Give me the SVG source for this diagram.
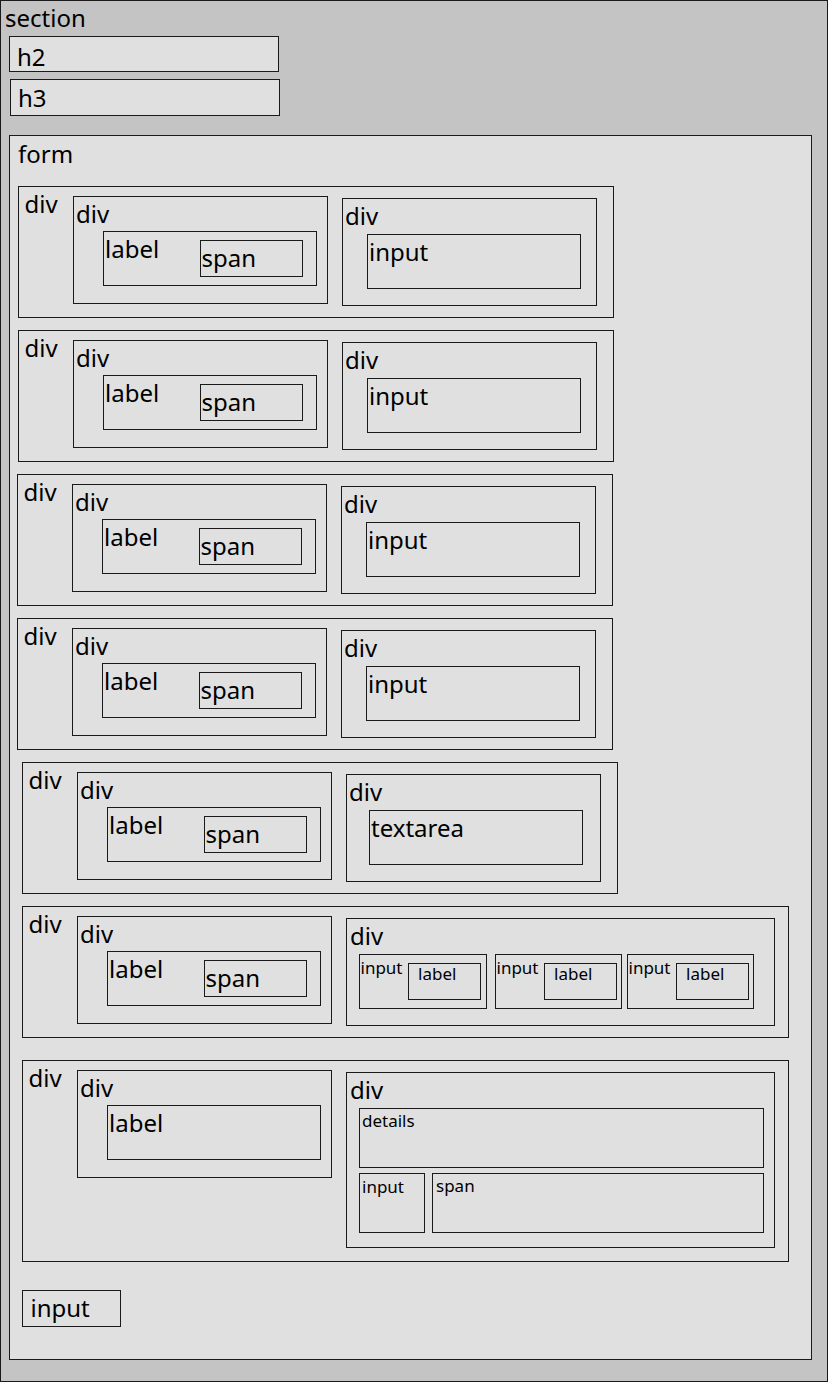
<svg xmlns="http://www.w3.org/2000/svg" width="828" height="1382" viewBox="0 0 828 1382">
<style>
rect{stroke:#1a1a1a;stroke-width:1;fill:#e0e0e0}
rect.sec{fill:#c4c4c4}
text{font-family:"Noto Sans","Open Sans","DejaVu Sans",sans-serif;font-size:24px;fill:#000}
text.s{font-size:17px}
</style>
<g id="section"><rect class="sec" x="0.5" y="0.5" width="827" height="1381"/><text x="5" y="27">section</text></g>
<g id="h2"><rect x="9.5" y="36.5" width="269" height="35"/><text x="17" y="66">h2</text></g>
<g id="h3"><rect x="10.5" y="79.5" width="269" height="36"/><text x="18" y="107">h3</text></g>
<g id="form"><rect x="9.5" y="135.5" width="802" height="1224"/><text x="18" y="163">form</text></g>

<g id="row1">
<g id="r1-div"><rect x="18.5" y="186.5" width="595" height="131"/><text x="24.5" y="213">div</text></g>
<g id="r1-ldiv"><rect x="73.5" y="196.5" width="254" height="107"/><text x="76" y="223">div</text></g>
<g id="r1-label"><rect x="103.5" y="231.5" width="213" height="54"/><text x="105" y="258">label</text></g>
<g id="r1-span"><rect x="200.5" y="240.5" width="102" height="36"/><text x="201.5" y="267">span</text></g>
<g id="r1-rdiv"><rect x="342.5" y="198.5" width="254" height="107"/><text x="345" y="225">div</text></g>
<g id="r1-input"><rect x="367.5" y="234.5" width="213" height="54"/><text x="369" y="261">input</text></g>
</g>
<g id="row2" transform="translate(0,144)">
<g id="r2-div"><rect x="18.5" y="186.5" width="595" height="131"/><text x="24.5" y="213">div</text></g>
<g id="r2-ldiv"><rect x="73.5" y="196.5" width="254" height="107"/><text x="76" y="223">div</text></g>
<g id="r2-label"><rect x="103.5" y="231.5" width="213" height="54"/><text x="105" y="258">label</text></g>
<g id="r2-span"><rect x="200.5" y="240.5" width="102" height="36"/><text x="201.5" y="267">span</text></g>
<g id="r2-rdiv"><rect x="342.5" y="198.5" width="254" height="107"/><text x="345" y="225">div</text></g>
<g id="r2-input"><rect x="367.5" y="234.5" width="213" height="54"/><text x="369" y="261">input</text></g>
</g>
<g id="row3" transform="translate(-1,288)">
<g id="r3-div"><rect x="18.5" y="186.5" width="595" height="131"/><text x="24.5" y="213">div</text></g>
<g id="r3-ldiv"><rect x="73.5" y="196.5" width="254" height="107"/><text x="76" y="223">div</text></g>
<g id="r3-label"><rect x="103.5" y="231.5" width="213" height="54"/><text x="105" y="258">label</text></g>
<g id="r3-span"><rect x="200.5" y="240.5" width="102" height="36"/><text x="201.5" y="267">span</text></g>
<g id="r3-rdiv"><rect x="342.5" y="198.5" width="254" height="107"/><text x="345" y="225">div</text></g>
<g id="r3-input"><rect x="367.5" y="234.5" width="213" height="54"/><text x="369" y="261">input</text></g>
</g>
<g id="row4" transform="translate(-1,432)">
<g id="r4-div"><rect x="18.5" y="186.5" width="595" height="131"/><text x="24.5" y="213">div</text></g>
<g id="r4-ldiv"><rect x="73.5" y="196.5" width="254" height="107"/><text x="76" y="223">div</text></g>
<g id="r4-label"><rect x="103.5" y="231.5" width="213" height="54"/><text x="105" y="258">label</text></g>
<g id="r4-span"><rect x="200.5" y="240.5" width="102" height="36"/><text x="201.5" y="267">span</text></g>
<g id="r4-rdiv"><rect x="342.5" y="198.5" width="254" height="107"/><text x="345" y="225">div</text></g>
<g id="r4-input"><rect x="367.5" y="234.5" width="213" height="54"/><text x="369" y="261">input</text></g>
</g>
<g id="row5" transform="translate(4,576)">
<g id="r5-div"><rect x="18.5" y="186.5" width="595" height="131"/><text x="24.5" y="213">div</text></g>
<g id="r5-ldiv"><rect x="73.5" y="196.5" width="254" height="107"/><text x="76" y="223">div</text></g>
<g id="r5-label"><rect x="103.5" y="231.5" width="213" height="54"/><text x="105" y="258">label</text></g>
<g id="r5-span"><rect x="200.5" y="240.5" width="102" height="36"/><text x="201.5" y="267">span</text></g>
<g id="r5-rdiv"><rect x="342.5" y="198.5" width="254" height="107"/><text x="345" y="225">div</text></g>
<g id="r5-textarea"><rect x="365.5" y="234.5" width="213" height="54"/><text x="367" y="261">textarea</text></g>
</g>
<g id="row6">
<g id="r6-div"><rect x="22.5" y="906.5" width="766" height="131"/><text x="28.5" y="933">div</text></g>
<g id="r6-ldiv"><rect x="77.5" y="916.5" width="254" height="107"/><text x="80" y="943">div</text></g>
<g id="r6-label"><rect x="107.5" y="951.5" width="213" height="54"/><text x="109" y="978">label</text></g>
<g id="r6-span"><rect x="204.5" y="960.5" width="102" height="36"/><text x="205.5" y="987">span</text></g>
<g id="r6-rdiv"><rect x="346.5" y="918.5" width="428" height="107"/><text x="350" y="945">div</text></g>
<g id="r6-input1"><rect x="359.5" y="954.5" width="127" height="54"/><text class="s" x="360.5" y="974">input</text></g>
<g id="r6-label1"><rect x="408.5" y="963.5" width="72" height="36"/><text class="s" x="418" y="980">label</text></g>
<g id="r6-input2"><rect x="495.5" y="954.5" width="126" height="54"/><text class="s" x="496.5" y="974">input</text></g>
<g id="r6-label2"><rect x="544.5" y="963.5" width="72" height="36"/><text class="s" x="554" y="980">label</text></g>
<g id="r6-input3"><rect x="627.5" y="954.5" width="126" height="54"/><text class="s" x="628.5" y="974">input</text></g>
<g id="r6-label3"><rect x="676.5" y="963.5" width="72" height="36"/><text class="s" x="686" y="980">label</text></g>
</g>
<g id="row7">
<g id="r7-div"><rect x="22.5" y="1060.5" width="766" height="201"/><text x="28.5" y="1087">div</text></g>
<g id="r7-ldiv"><rect x="77.5" y="1070.5" width="254" height="107"/><text x="80" y="1097">div</text></g>
<g id="r7-label"><rect x="107.5" y="1105.5" width="213" height="54"/><text x="109" y="1132">label</text></g>
<g id="r7-rdiv"><rect x="346.5" y="1072.5" width="428" height="175"/><text x="350" y="1099">div</text></g>
<g id="r7-details"><rect x="359.5" y="1108.5" width="404" height="59"/><text class="s" x="362" y="1127">details</text></g>
<g id="r7-input"><rect x="359.5" y="1173.5" width="65" height="59"/><text class="s" x="362" y="1193">input</text></g>
<g id="r7-span"><rect x="432.5" y="1173.5" width="331" height="59"/><text class="s" x="436" y="1192">span</text></g>
</g>
<g id="submit"><rect x="22.5" y="1290.5" width="98" height="36"/><text x="30.5" y="1317">input</text></g>
<g id="connectors"/>
</svg>
